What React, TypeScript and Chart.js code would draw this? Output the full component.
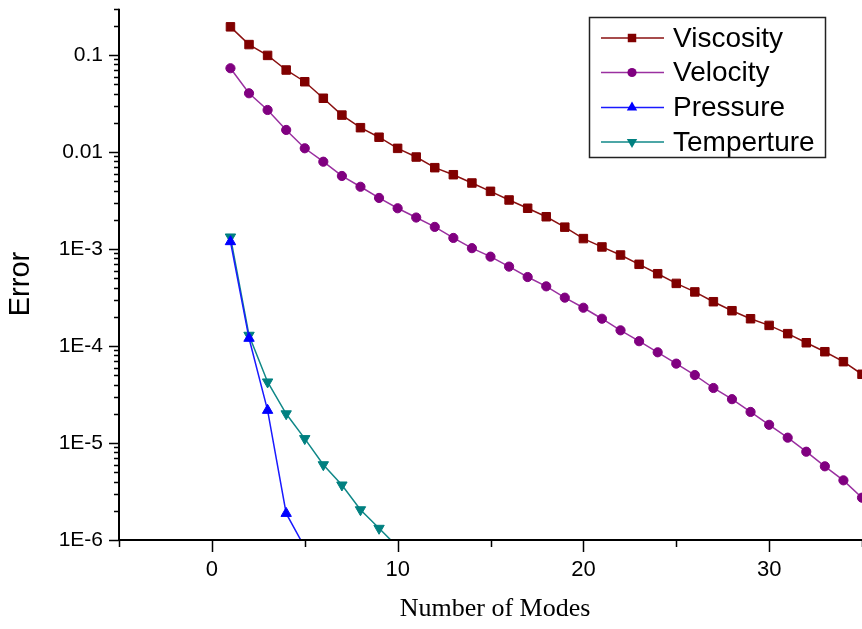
import React, { useEffect, useRef } from 'react';
import { Chart, registerables } from 'chart.js';

Chart.register(...registerables);

// ---- data ----
const modes = [1, 2, 3, 4, 5, 6, 7, 8, 9, 10, 11, 12, 13, 14, 15, 16, 17, 18, 19, 20, 21, 22, 23, 24, 25, 26, 27, 28, 29, 30, 31, 32, 33, 34, 35];

const viscosity = [0.195, 0.128, 0.099, 0.07, 0.053, 0.0358, 0.024, 0.0178, 0.0142, 0.0109, 0.00887, 0.00689, 0.00583, 0.00479, 0.00393, 0.0032, 0.00263, 0.00215, 0.00168, 0.00128, 0.00105, 0.000867, 0.000695, 0.000556, 0.000442, 0.000361, 0.000286, 0.000231, 0.000191, 0.000163, 0.000134, 0.000108, 0.0000873, 0.0000689, 0.0000511];

const velocity = [0.073, 0.0403, 0.0271, 0.01687, 0.01092, 0.00794, 0.00566, 0.00438, 0.00336, 0.00263, 0.00211, 0.00169, 0.0013, 0.00102, 0.000834, 0.000658, 0.000514, 0.000412, 0.000315, 0.000248, 0.000191, 0.000145, 0.000112, 0.0000861, 0.0000658, 0.0000502, 0.0000369, 0.0000283, 0.0000209, 0.0000154, 0.00001135, 0.00000813, 0.00000575, 0.00000412, 0.00000273];

const pressure = [0.00119, 0.00012, 0.0000217, 0.00000188, 0.00000084];

const temperature = [0.00133, 0.000129, 0.0000426, 0.00002, 0.0000111, 0.00000597, 0.00000369, 0.00000205, 0.00000132, 0.00000085];

const seriesNames = ['Viscosity', 'Velocity', 'Pressure', 'Temperture'];

const yTickValues = [1e-6, 1e-5, 1e-4, 1e-3, 0.01, 0.1];
const yTickLabels = ['1E-6', '1E-5', '1E-4', '1E-3', '0.01', '0.1'];
const xTickValues = [0, 10, 20, 30];
const xTickLabels = ['0', '10', '20', '30'];

const xTitle = 'Number of Modes';
const yTitle = 'Error';

const SANS = '"Liberation Sans", Arial, sans-serif';
const SERIF = '"Liberation Serif", "Times New Roman", serif';

type Style = { line: string; fill: string; shape: 'rect' | 'circle' | 'triangle' | 'triangleDown'; radius: number };
const styles: Style[] = [
  { line: '#8a1010', fill: '#800000', shape: 'rect', radius: 6 },
  { line: '#9a30a0', fill: '#800080', shape: 'circle', radius: 4.6 },
  { line: '#1a1aff', fill: '#0000ff', shape: 'triangle', radius: 6 },
  { line: '#108888', fill: '#008080', shape: 'triangleDown', radius: 6 },
];

function toPoints(vals: number[]) {
  return vals.map((v, i) => ({ x: modes[i], y: v }));
}

function drawMarker(ctx: CanvasRenderingContext2D, s: Style, x: number, y: number) {
  ctx.fillStyle = s.fill;
  ctx.beginPath();
  const r = s.radius;
  if (s.shape === 'rect') {
    const h = r * Math.SQRT1_2;
    ctx.rect(x - h, y - h, 2 * h, 2 * h);
  } else if (s.shape === 'circle') {
    ctx.arc(x, y, r, 0, Math.PI * 2);
  } else {
    const dir = s.shape === 'triangle' ? 1 : -1;
    for (let k = 0; k < 3; k++) {
      const a = (k * 2 * Math.PI) / 3;
      const px = x + Math.sin(a) * r;
      const py = y - dir * Math.cos(a) * r;
      if (k === 0) ctx.moveTo(px, py);
      else ctx.lineTo(px, py);
    }
    ctx.closePath();
  }
  ctx.fill();
}

export default function App() {
  const ref = useRef<HTMLCanvasElement>(null);

  useEffect(() => {
    document.body.style.margin = '0';
    const canvas = ref.current!;

    const originPlugin = {
      id: 'originAxes',
      afterDraw(chart: any) {
        const ctx: CanvasRenderingContext2D = chart.ctx;
        const xs = chart.scales.x;
        const ys = chart.scales.y;
        const area = chart.chartArea;
        ctx.save();
        ctx.strokeStyle = '#000';
        ctx.lineWidth = 2;
        // axis lines
        ctx.beginPath();
        ctx.moveTo(area.left, area.top);
        ctx.lineTo(area.left, area.bottom + 1);
        ctx.moveTo(area.left - 1, area.bottom);
        ctx.lineTo(area.right, area.bottom);
        ctx.stroke();
        // y ticks (log, 1..9 per decade)
        ctx.lineWidth = 1.5;
        ctx.beginPath();
        for (let e = -6; e <= -1; e++) {
          for (let m = 1; m <= 9; m++) {
            const v = m * Math.pow(10, e);
            if (v < ys.min * 0.9999 || v > ys.max * 1.0001) continue;
            const py = Math.round(ys.getPixelForValue(v)) + 0.5;
            const len = m === 1 ? 10 : 5;
            ctx.moveTo(area.left - len, py);
            ctx.lineTo(area.left, py);
          }
        }
        // x ticks
        for (let v = xs.min; v <= xs.max + 1e-9; v += 5) {
          const px = Math.round(xs.getPixelForValue(v)) + 0.5;
          const len = v % 10 === 0 ? 12 : 7;
          ctx.moveTo(px, area.bottom);
          ctx.lineTo(px, area.bottom + len);
        }
        ctx.stroke();

        // titles
        ctx.fillStyle = '#000';
        ctx.textAlign = 'center';
        ctx.textBaseline = 'middle';
        ctx.font = `26px ${SERIF}`;
        ctx.fillText(xTitle, 495, 609);
        ctx.save();
        ctx.translate(21, 284);
        ctx.rotate(-Math.PI / 2);
        ctx.font = `29px ${SANS}`;
        ctx.fillText(yTitle, 0, 0);
        ctx.restore();

        // legend
        const bx = 589.5, by = 17.5, bw = 236, bh = 140;
        ctx.fillStyle = '#fff';
        ctx.fillRect(bx, by, bw, bh);
        ctx.strokeStyle = '#222';
        ctx.lineWidth = 1.5;
        ctx.strokeRect(bx, by, bw, bh);
        const rowY = [38, 72.5, 107.5, 142];
        ctx.font = `28px ${SANS}`;
        ctx.textAlign = 'left';
        ctx.textBaseline = 'middle';
        seriesNames.forEach((name, i) => {
          const s = styles[i];
          const yy = rowY[i];
          ctx.strokeStyle = s.line;
          ctx.lineWidth = 1.5;
          ctx.beginPath();
          ctx.moveTo(601, yy);
          ctx.lineTo(664, yy);
          ctx.stroke();
          drawMarker(ctx, s, 632, yy);
          ctx.fillStyle = '#000';
          ctx.fillText(name, 673, yy + 1);
        });
        ctx.restore();
      },
    };

    const series = [viscosity, velocity, pressure, temperature];
    const datasets = series.map((vals, i) => {
      const s = styles[i];
      return {
        label: seriesNames[i],
        data: toPoints(vals),
        borderColor: s.line,
        borderWidth: 1.5,
        backgroundColor: s.fill,
        pointBackgroundColor: s.fill,
        pointBorderColor: s.fill,
        pointBorderWidth: 1,
        pointRadius: s.radius,
        pointStyle: s.shape === 'triangleDown' ? 'triangle' : s.shape,
        pointRotation: s.shape === 'triangleDown' ? 180 : 0,
        tension: 0,
        fill: false,
        clip: 0,
      };
    });

    const chart = new Chart(canvas, {
      type: 'line',
      data: { datasets } as any,
      options: {
        responsive: false,
        animation: false,
        devicePixelRatio: 1,
        layout: { autoPadding: false, padding: { top: 8.7, left: 0, right: 0, bottom: 0 } },
        plugins: { legend: { display: false }, tooltip: { enabled: false } },
        scales: {
          x: {
            type: 'linear',
            min: -5,
            max: 35,
            grid: { display: false, drawTicks: false },
            border: { display: false },
            ticks: {
              stepSize: 5,
              autoSkip: false,
              maxRotation: 0,
              minRotation: 0,
              padding: 17,
              color: '#000',
              font: { family: SANS, size: 22 },
              callback: (v: any) => {
                const idx = xTickValues.indexOf(Number(v));
                return idx >= 0 ? xTickLabels[idx] : null;
              },
            },
            afterFit: (s: any) => {
              s.height = 89;
              s.paddingLeft = 0;
              s.paddingRight = 0;
            },
          },
          y: {
            type: 'logarithmic',
            min: 1e-6,
            max: 0.3,
            grid: { display: false, drawTicks: false },
            border: { display: false },
            afterBuildTicks: (s: any) => {
              s.ticks = yTickValues.map((v) => ({ value: v }));
            },
            ticks: {
              autoSkip: false,
              padding: 16,
              color: '#000',
              font: { family: SANS, size: 21 },
              callback: (v: any) => {
                const idx = yTickValues.findIndex((t) => Math.abs(t - Number(v)) / t < 1e-6);
                return idx >= 0 ? yTickLabels[idx] : null;
              },
            },
            afterFit: (s: any) => {
              s.width = 119;
              s.paddingTop = 0;
              s.paddingBottom = 0;
            },
          },
        },
      } as any,
      plugins: [originPlugin],
    });

    return () => chart.destroy();
  }, []);

  return (
    <div style={{ width: 862, height: 629, background: '#fff' }}>
      <canvas ref={ref} width={862} height={629} style={{ display: 'block' }} />
    </div>
  );
}
